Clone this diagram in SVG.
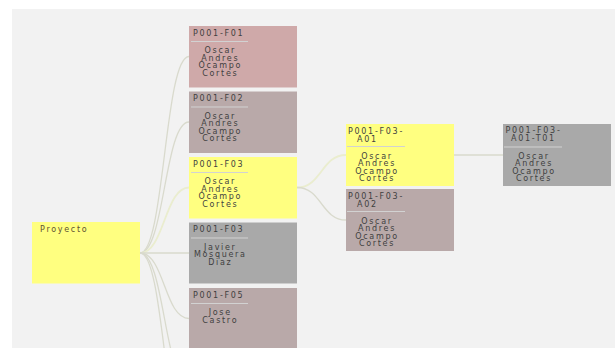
<svg xmlns="http://www.w3.org/2000/svg" width="615" height="348" viewBox="0 0 615 348">
  <style>
    .txt { font-family: "DejaVu Sans", Verdana, sans-serif; font-size: 8px; letter-spacing: 1.7px; fill: #3f3f3f; }
    .body { text-anchor: middle; }
    .root-label { fill: #5e5232; }
    .sep { stroke: #d2d2d2; stroke-width: 1; }
    .link { fill: none; stroke: #d9dacd; stroke-width: 1.3; }
    .link.hl { stroke: #eaedcf; stroke-width: 1.8; }
    .yellow { fill: #ffff80; }
    .rose { fill: #cfa9a9; }
    .mauve { fill: #b9a9a9; }
    .grey { fill: #a9a9a9; }
  </style>

  <!-- canvas -->
  <rect x="0" y="0" width="615" height="348" fill="#ffffff"/>
  <rect x="12" y="9" width="603" height="339" fill="#f2f2f2"/>

  <!-- connectors -->
  <g id="links">
    <path class="link" d="M140,253 C164.5,253 164.5,56.5 189,56.5"/>
    <path class="link" d="M140,253 C164.5,253 164.5,122 189,122"/>
    <path class="link hl" d="M140,253 C164.5,253 164.5,187.5 189,187.5"/>
    <path class="link" d="M140,253 L189,253"/>
    <path class="link" d="M140,253 C164.5,253 164.5,318.5 189,318.5"/>
    <path class="link" d="M140,253 C164.5,253 164.5,384 189,384"/>
    <path class="link" d="M140,253 C164.5,253 164.5,449.5 189,449.5"/>
    <path class="link hl" d="M297,187.5 C321.5,187.5 321.5,155 346,155"/>
    <path class="link" d="M297,187.5 C321.5,187.5 321.5,220 346,220"/>
    <path class="link" d="M454,155 L503,155"/>
  </g>

  <!-- root -->
  <g id="proyecto">
    <rect class="yellow" x="32" y="222" width="108" height="61.5"/>
    <text class="txt root-label" x="40" y="232">Proyecto</text>
  </g>

  <!-- first level -->
  <g id="p001-f01">
    <rect class="rose" x="189" y="26" width="108" height="61.5"/>
    <text class="txt" x="193" y="35.5">P001-F01</text>
    <line class="sep" x1="191" y1="41.5" x2="248" y2="41.5"/>
    <text class="txt body" x="220.3" y="53">Oscar</text>
    <text class="txt body" x="220.3" y="60.5">Andres</text>
    <text class="txt body" x="220.3" y="68">Ocampo</text>
    <text class="txt body" x="220.3" y="75.5">Cortes</text>
  </g>

  <g id="p001-f02">
    <rect class="mauve" x="189" y="91.5" width="108" height="61.5"/>
    <text class="txt" x="193" y="101">P001-F02</text>
    <line class="sep" x1="191" y1="107" x2="248" y2="107"/>
    <text class="txt body" x="220.3" y="118.5">Oscar</text>
    <text class="txt body" x="220.3" y="126">Andres</text>
    <text class="txt body" x="220.3" y="133.5">Ocampo</text>
    <text class="txt body" x="220.3" y="141">Cortes</text>
  </g>

  <g id="p001-f03">
    <rect class="yellow" x="189" y="157" width="108" height="61.5"/>
    <text class="txt" x="193" y="166.5">P001-F03</text>
    <line class="sep" x1="191" y1="172.5" x2="248" y2="172.5"/>
    <text class="txt body" x="220.3" y="184">Oscar</text>
    <text class="txt body" x="220.3" y="191.5">Andres</text>
    <text class="txt body" x="220.3" y="199">Ocampo</text>
    <text class="txt body" x="220.3" y="206.5">Cortes</text>
  </g>

  <g id="p001-f03-b">
    <rect class="grey" x="189" y="222.5" width="108" height="61"/>
    <text class="txt" x="193" y="232">P001-F03</text>
    <line class="sep" x1="191" y1="238" x2="248" y2="238"/>
    <text class="txt body" x="220.3" y="249.5">Javier</text>
    <text class="txt body" x="220.3" y="257">Mosquera</text>
    <text class="txt body" x="220.3" y="264.5">Diaz</text>
  </g>

  <g id="p001-f05">
    <rect class="mauve" x="189" y="288" width="108" height="70"/>
    <text class="txt" x="193" y="297.5">P001-F05</text>
    <line class="sep" x1="191" y1="303.5" x2="248" y2="303.5"/>
    <text class="txt body" x="220.3" y="315">Jose</text>
    <text class="txt body" x="220.3" y="322.5">Castro</text>
  </g>

  <!-- second level -->
  <g id="p001-f03-a01">
    <rect class="yellow" x="346" y="124" width="108" height="62"/>
    <text class="txt body" x="376" y="134">P001-F03-</text>
    <text class="txt" x="357" y="141.5">A01</text>
    <line class="sep" x1="347" y1="146.5" x2="405" y2="146.5"/>
    <text class="txt body" x="377" y="158.5">Oscar</text>
    <text class="txt body" x="377" y="166">Andres</text>
    <text class="txt body" x="377" y="173.5">Ocampo</text>
    <text class="txt body" x="377" y="181">Cortes</text>
  </g>

  <g id="p001-f03-a02">
    <rect class="mauve" x="346" y="189" width="108" height="62"/>
    <text class="txt body" x="376" y="199">P001-F03-</text>
    <text class="txt" x="357" y="206.5">A02</text>
    <line class="sep" x1="347" y1="211.5" x2="405" y2="211.5"/>
    <text class="txt body" x="377" y="223.5">Oscar</text>
    <text class="txt body" x="377" y="231">Andres</text>
    <text class="txt body" x="377" y="238.5">Ocampo</text>
    <text class="txt body" x="377" y="246">Cortes</text>
  </g>

  <!-- third level -->
  <g id="p001-f03-a01-t01">
    <rect class="grey" x="503" y="124" width="108" height="62"/>
    <text class="txt body" x="533.5" y="132.5">P001-F03-</text>
    <text class="txt body" x="533.5" y="141">A01-T01</text>
    <line class="sep" x1="504" y1="147" x2="562" y2="147"/>
    <text class="txt body" x="534" y="158.5">Oscar</text>
    <text class="txt body" x="534" y="166">Andres</text>
    <text class="txt body" x="534" y="173.5">Ocampo</text>
    <text class="txt body" x="534" y="181">Cortes</text>
  </g>
</svg>
